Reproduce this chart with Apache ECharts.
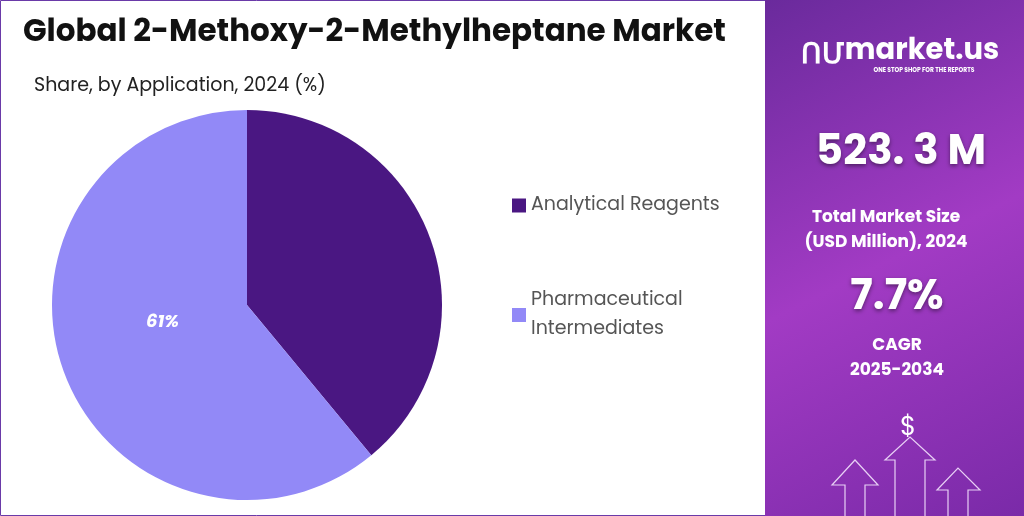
<!DOCTYPE html>
<html><head><meta charset="utf-8">
<script src="https://cdn.jsdelivr.net/npm/echarts@6/dist/echarts.min.js"></script>
<style>html,body{margin:0;padding:0;background:#fff}#c{width:1024px;height:516px}</style>
</head><body><div id="c"></div>
<script>
const categories = ['Analytical Reagents', 'Pharmaceutical Intermediates'];
const shares = [39, 61];
const labelsShown = [false, true];
const colors = ['#4a1782', '#9289f7'];
const chart = echarts.init(document.getElementById('c'));
const F = 'Poppins, "Open Sans", Lato, sans-serif';
const T = (x, y, text, font, extra) => ({type: 'text', x: x, y: y,
  style: Object.assign({text: text, fill: '#fff', font: font, align: 'center', verticalAlign: 'middle'}, extra || {})});
const shadow = {textShadowColor: 'rgba(0,0,0,0.45)', textShadowBlur: 4, textShadowOffsetY: 2};
chart.setOption({
  animation: false,
  title: [
    {text: 'Global 2-Methoxy-2-Methylheptane Market', left: 18, top: 13,
     textStyle: {fontFamily: F, fontSize: 31, fontWeight: 'bold', color: '#111'}},
    {text: 'Share, by Application, 2024 (%)', left: 29, top: 72,
     textStyle: {fontFamily: F, fontSize: 19, fontWeight: 'normal', color: '#222'}}
  ],
  legend: {
    orient: 'vertical', left: 507, top: 186, itemGap: 66, itemWidth: 14, itemHeight: 14,
    icon: 'rect',
    data: categories,
    formatter: n => n === 'Pharmaceutical Intermediates' ? 'Pharmaceutical\nIntermediates' : n,
    textStyle: {fontFamily: F, fontSize: 19, color: '#555', lineHeight: 29}
  },
  graphic: [
    {type: 'rect', shape: {x: 0.5, y: 0.5, width: 1023, height: 515}, style: {fill: 'none', stroke: '#6a3aa8', lineWidth: 1}},
    {type: 'rect', shape: {x: 765, y: 0, width: 259, height: 516},
     style: {fill: new echarts.graphic.LinearGradient(0, 0, 1, 1, [
       {offset: 0, color: '#6a2a9c'}, {offset: 0.5, color: '#a23bc4'}, {offset: 1, color: '#7a2aa8'}])}},
    T(822, 56, 'ՈՄ', 'bold 28px ' + F),
    T(922, 52, 'market.us', 'bold 29px ' + F),
    T(924, 70, 'ONE STOP SHOP FOR THE REPORTS', 'bold 6px ' + F),
    T(901, 153, '523. 3 M', 'bold 42px ' + F, shadow),
    T(886, 230, 'Total Market Size\n(USD Million), 2024', 'bold 17px ' + F, {lineHeight: 25}),
    T(897, 298, '7.7%', 'bold 42px ' + F, shadow),
    T(897, 358, 'CAGR\n2025-2034', 'bold 17px ' + F, {lineHeight: 25}),
    T(908, 428, '$', '26px ' + F),
    {type: 'polyline', shape: {points: [[895,516],[895,460],[885,460],[910,437],[935,460],[925,460],[925,516]]}, style: {fill: 'none', stroke: '#e8d0f5', lineWidth: 1.2}},
    {type: 'polyline', shape: {points: [[845,516],[845,485],[832,485],[855,460],[878,485],[865,485],[865,516]]}, style: {fill: 'none', stroke: '#e8d0f5', lineWidth: 1.2}},
    {type: 'polyline', shape: {points: [[948,516],[948,490],[937,490],[958,468],[980,490],[968,490],[968,516]]}, style: {fill: 'none', stroke: '#e8d0f5', lineWidth: 1.2}}
  ],
  series: [{
    type: 'pie', center: [247, 305], radius: 195, startAngle: 90, clockwise: true,
    itemStyle: {borderColor: '#fff', borderWidth: 0},
    data: categories.map((c, i) => ({
      name: c, value: shares[i], itemStyle: {color: colors[i]},
      label: {show: labelsShown[i], position: 'inner', formatter: '{c}%', color: '#fff',
              fontFamily: F, fontSize: 18, fontWeight: 'bold', fontStyle: 'italic', offset: [10, -17]}
    })),
    labelLine: {show: false}
  }]
});
</script></body></html>
